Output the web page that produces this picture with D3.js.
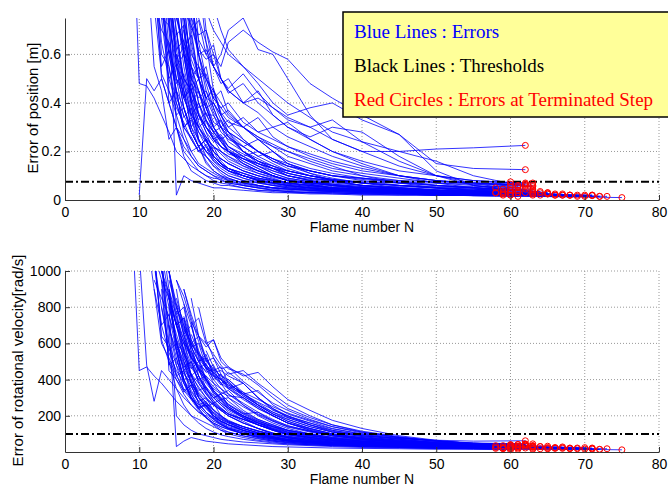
<!DOCTYPE html>
<html>
<head>
<meta charset="utf-8">
<script src="https://cdn.jsdelivr.net/npm/d3@7"></script>
<style>
  body { margin: 0; background: #fff; }
  svg { font-family: "Liberation Sans", Arial, sans-serif; }
</style>
</head>
<body>
<script>
// frames at which each run is sampled (a run begins at its start frame)
const frameGrid = [9,10,11,12,13,14,15,16,17,18,19,20,21,22,24,26,28,30,33,36,40,45,50,55];

// first frame and terminated frame of every run
const runStart = [9,10,11,12,12,13,13,14,14,14,15,15,16,16,13,12,14,15,17,18,16,13,15,12,14,16,15,13,14,17,13,15,16,14,18,12,
                  12,13,13,14,14,14,15,15,15,15,16,16,16,17,17,18,13,14,15,16,12,13,14,15,16,17,14,15,13,16,15,14,12,19];
const runEnd   = [58,59,59,59,60,60,60,60,61,61,61,62,62,62,62,63,63,63,63,64,65,65,66,66,67,67,68,68,69,70,71,71,72,73,75,58,
                  58,59,59,60,60,60,60,61,61,61,61,61,62,62,62,62,63,63,63,63,63,64,64,65,65,66,67,68,69,70,71,72,60,62];

// position error [m], from start frame along frameGrid, last value = terminated step
const posErr = [
  [1.3,0.48,0.47,0.42,0.35,0.28,0.2,0.17,0.14,0.12,0.1,0.09,0.085,0.07,0.06,0.05,0.045,0.04,0.035,0.035,0.03,0.03,0.03,0.03,0.03],
  [0.02,0.5,0.45,0.5,0.4,0.3,0.25,0.2,0.22,0.15,0.12,0.1,0.09,0.07,0.06,0.05,0.05,0.04,0.04,0.035,0.03,0.03,0.028,0.025],
  [1.0,0.55,0.45,0.25,0.3,0.2,0.16,0.12,0.1,0.08,0.07,0.065,0.05,0.04,0.04,0.035,0.03,0.03,0.025,0.025,0.02,0.02,0.02],
  [1.2,0.8,0.6,0.45,0.38,0.3,0.25,0.2,0.18,0.15,0.12,0.1,0.08,0.07,0.06,0.05,0.045,0.04,0.04,0.035,0.035,0.035],
  [0.9,0.75,0.72,0.55,0.6,0.42,0.35,0.3,0.27,0.22,0.2,0.15,0.12,0.1,0.08,0.07,0.06,0.05,0.045,0.04,0.04,0.065],
  [1.1,0.7,0.42,0.35,0.28,0.22,0.18,0.15,0.12,0.1,0.08,0.06,0.05,0.045,0.04,0.035,0.03,0.03,0.025,0.025,0.02],
  [0.95,0.85,0.65,0.5,0.45,0.38,0.4,0.32,0.3,0.26,0.2,0.16,0.13,0.1,0.085,0.07,0.06,0.055,0.05,0.05,0.075],
  [0.9,0.3,0.18,0.12,0.1,0.08,0.07,0.06,0.06,0.05,0.04,0.035,0.03,0.03,0.025,0.025,0.02,0.02,0.02,0.02],
  [1.0,0.55,0.48,0.35,0.3,0.25,0.2,0.17,0.15,0.12,0.1,0.08,0.07,0.06,0.05,0.05,0.045,0.04,0.04,0.04],
  [0.8,0.02,0.1,0.08,0.07,0.06,0.05,0.05,0.045,0.04,0.035,0.03,0.03,0.025,0.025,0.02,0.02,0.02,0.018,0.015],
  [1.0,0.7,0.55,0.45,0.38,0.3,0.26,0.22,0.18,0.14,0.11,0.09,0.075,0.065,0.055,0.05,0.045,0.04,0.055],
  [0.9,0.78,0.72,0.6,0.62,0.55,0.6,0.7,0.75,0.62,0.6,0.5,0.35,0.25,0.2,0.2,0.21,0.215,0.225],
  [1.0,0.75,0.68,0.7,0.6,0.55,0.65,0.7,0.65,0.61,0.58,0.48,0.42,0.35,0.27,0.15,0.13,0.125],
  [0.85,0.5,0.35,0.28,0.2,0.15,0.12,0.09,0.07,0.06,0.05,0.045,0.04,0.035,0.03,0.03,0.03,0.03],
  [1.0,0.9,0.75,0.62,0.5,0.45,0.35,0.35,0.3,0.28,0.22,0.18,0.15,0.12,0.1,0.085,0.075,0.07,0.07,0.065,0.065],
  [1.0,0.65,0.5,0.4,0.3,0.25,0.2,0.18,0.14,0.12,0.1,0.08,0.07,0.06,0.055,0.05,0.045,0.045,0.04,0.04,0.04,0.045],
  [1.0,0.85,0.75,0.6,0.55,0.5,0.45,0.4,0.35,0.3,0.25,0.2,0.16,0.13,0.11,0.09,0.08,0.075,0.07,0.07],
  [0.7,0.45,0.3,0.22,0.16,0.12,0.1,0.08,0.06,0.05,0.04,0.035,0.03,0.03,0.025,0.025,0.02,0.02,0.02],
  [1.0,0.75,0.65,0.55,0.5,0.45,0.4,0.45,0.35,0.3,0.25,0.2,0.15,0.1,0.08,0.07,0.06],
  [1.0,0.78,0.7,0.65,0.6,0.55,0.48,0.4,0.35,0.38,0.4,0.33,0.27,0.12,0.06,0.03],
  [0.9,0.8,0.6,0.45,0.38,0.3,0.26,0.2,0.16,0.13,0.1,0.08,0.065,0.055,0.05,0.04,0.035,0.03],
  [0.8,0.55,0.35,0.25,0.18,0.14,0.12,0.1,0.08,0.07,0.06,0.05,0.04,0.035,0.03,0.03,0.025,0.025,0.025,0.02,0.025],
  [1.0,0.6,0.4,0.3,0.25,0.22,0.2,0.18,0.15,0.12,0.1,0.08,0.065,0.055,0.045,0.04,0.03,0.03,0.025],
  [0.8,0.7,0.65,0.5,0.45,0.35,0.4,0.3,0.25,0.2,0.18,0.14,0.11,0.09,0.07,0.06,0.05,0.04,0.035,0.03,0.025,0.02],
  [0.95,0.7,0.5,0.38,0.28,0.22,0.18,0.15,0.13,0.1,0.08,0.065,0.055,0.045,0.04,0.035,0.03,0.025,0.02,0.02],
  [1.0,0.65,0.5,0.42,0.35,0.28,0.25,0.22,0.25,0.2,0.15,0.11,0.08,0.06,0.05,0.04,0.03,0.02],
  [0.6,0.5,0.45,0.35,0.3,0.25,0.22,0.2,0.17,0.15,0.13,0.12,0.1,0.08,0.06,0.045,0.035,0.025,0.02],
  [1.0,0.45,0.38,0.32,0.25,0.2,0.22,0.16,0.13,0.11,0.09,0.075,0.06,0.05,0.045,0.04,0.035,0.03,0.025,0.022,0.02],
  [1.0,0.75,0.65,0.55,0.45,0.35,0.3,0.24,0.2,0.16,0.13,0.1,0.08,0.065,0.05,0.04,0.03,0.025,0.02,0.015],
  [0.9,0.55,0.4,0.3,0.25,0.2,0.15,0.12,0.1,0.085,0.07,0.06,0.05,0.04,0.03,0.02,0.015],
  [0.85,0.6,0.45,0.28,0.2,0.15,0.13,0.11,0.095,0.085,0.07,0.06,0.05,0.045,0.04,0.035,0.03,0.025,0.02,0.02,0.02],
  [1.0,0.8,0.55,0.4,0.32,0.28,0.24,0.21,0.17,0.14,0.11,0.09,0.075,0.06,0.05,0.04,0.03,0.025,0.02],
  [0.7,0.4,0.25,0.18,0.14,0.11,0.09,0.07,0.06,0.05,0.045,0.04,0.035,0.03,0.025,0.02,0.018,0.015],
  [1.0,0.8,0.6,0.55,0.5,0.42,0.4,0.35,0.3,0.25,0.2,0.16,0.13,0.1,0.08,0.06,0.045,0.035,0.025,0.015],
  [0.9,0.65,0.45,0.35,0.28,0.2,0.15,0.12,0.1,0.08,0.06,0.045,0.035,0.025,0.018,0.01],
  [1.0,0.5,0.4,0.3,0.22,0.18,0.14,0.12,0.1,0.09,0.08,0.065,0.055,0.05,0.045,0.04,0.04,0.035,0.035,0.03,0.03,0.03],
  [0.9,0.55,0.62,0.48,0.52,0.4,0.33,0.36,0.28,0.25,0.27,0.2,0.16,0.14,0.11,0.09,0.08,0.07,0.06,0.055,0.05,0.05],
  [1.0,0.72,0.58,0.63,0.45,0.5,0.38,0.3,0.33,0.26,0.22,0.18,0.2,0.15,0.12,0.1,0.09,0.07,0.06,0.05,0.045],
  [0.9,0.4,0.45,0.3,0.26,0.2,0.23,0.17,0.14,0.12,0.1,0.085,0.07,0.06,0.05,0.045,0.04,0.035,0.03,0.03,0.03],
  [1.0,0.68,0.72,0.5,0.55,0.42,0.46,0.36,0.32,0.3,0.26,0.22,0.18,0.15,0.12,0.1,0.08,0.06,0.05,0.04],
  [0.75,0.5,0.34,0.38,0.25,0.2,0.22,0.16,0.13,0.11,0.09,0.08,0.065,0.055,0.05,0.04,0.035,0.03,0.03,0.03],
  [0.85,0.62,0.45,0.3,0.35,0.28,0.24,0.26,0.2,0.18,0.2,0.16,0.14,0.12,0.1,0.09,0.075,0.06,0.055,0.055],
  [0.95,0.62,0.68,0.5,0.42,0.45,0.35,0.3,0.34,0.28,0.3,0.26,0.22,0.18,0.14,0.1,0.07,0.05,0.04],
  [0.8,0.55,0.4,0.45,0.33,0.28,0.24,0.2,0.16,0.13,0.1,0.08,0.07,0.06,0.05,0.045,0.04,0.035,0.03],
  [0.6,0.42,0.48,0.36,0.3,0.25,0.27,0.22,0.19,0.16,0.14,0.12,0.1,0.085,0.07,0.06,0.05,0.045,0.04],
  [1.0,0.85,0.7,0.74,0.6,0.55,0.5,0.44,0.48,0.4,0.35,0.3,0.26,0.3,0.28,0.18,0.1,0.07,0.06],
  [0.9,0.62,0.5,0.55,0.4,0.35,0.37,0.3,0.25,0.22,0.2,0.16,0.13,0.11,0.09,0.07,0.06,0.05],
  [0.75,0.45,0.32,0.26,0.22,0.2,0.17,0.14,0.12,0.1,0.08,0.07,0.06,0.05,0.045,0.04,0.035,0.03],
  [1.0,0.8,0.66,0.6,0.64,0.5,0.46,0.52,0.44,0.38,0.34,0.3,0.33,0.24,0.16,0.1,0.08,0.07],
  [1.0,0.65,0.5,0.42,0.45,0.36,0.3,0.34,0.26,0.22,0.18,0.15,0.12,0.1,0.08,0.07,0.06],
  [0.85,0.6,0.48,0.38,0.3,0.33,0.25,0.2,0.17,0.15,0.12,0.1,0.085,0.07,0.06,0.05,0.045],
  [1.0,0.7,0.55,0.48,0.5,0.4,0.36,0.3,0.32,0.25,0.2,0.16,0.12,0.1,0.08,0.065],
  [0.75,0.5,0.56,0.42,0.35,0.3,0.33,0.25,0.22,0.2,0.17,0.15,0.13,0.11,0.09,0.08,0.07,0.06,0.05,0.045,0.04],
  [0.9,0.55,0.38,0.28,0.22,0.25,0.18,0.15,0.13,0.1,0.085,0.07,0.06,0.05,0.045,0.04,0.035,0.03,0.025,0.025],
  [0.85,0.75,0.58,0.5,0.52,0.42,0.38,0.4,0.32,0.28,0.25,0.22,0.19,0.16,0.13,0.1,0.08,0.065,0.055],
  [0.7,0.52,0.4,0.33,0.28,0.3,0.24,0.2,0.17,0.14,0.12,0.1,0.085,0.07,0.06,0.05,0.04,0.035],
  [0.8,0.52,0.45,0.35,0.38,0.28,0.22,0.25,0.18,0.15,0.13,0.11,0.09,0.08,0.07,0.06,0.05,0.045,0.04,0.04,0.035,0.03],
  [0.95,0.8,0.62,0.66,0.5,0.44,0.38,0.4,0.33,0.28,0.24,0.2,0.17,0.14,0.12,0.1,0.08,0.06,0.05,0.04,0.035],
  [0.65,0.45,0.3,0.33,0.24,0.2,0.17,0.14,0.12,0.1,0.08,0.07,0.06,0.05,0.04,0.035,0.03,0.025,0.022,0.02],
  [1.0,0.9,0.72,0.62,0.58,0.6,0.5,0.45,0.4,0.42,0.38,0.33,0.3,0.25,0.2,0.14,0.1,0.06,0.03],
  [0.6,0.42,0.3,0.24,0.2,0.17,0.15,0.12,0.1,0.085,0.07,0.06,0.05,0.045,0.04,0.03,0.025,0.025],
  [0.7,0.5,0.38,0.3,0.25,0.22,0.18,0.15,0.13,0.11,0.09,0.075,0.06,0.05,0.04,0.03,0.02],
  [1.0,0.78,0.6,0.48,0.42,0.45,0.36,0.32,0.28,0.24,0.2,0.17,0.14,0.11,0.09,0.07,0.05,0.04,0.03,0.025],
  [0.55,0.38,0.28,0.22,0.25,0.18,0.15,0.13,0.11,0.09,0.075,0.065,0.055,0.045,0.04,0.035,0.03,0.025,0.02],
  [1.0,0.62,0.5,0.42,0.46,0.35,0.3,0.26,0.22,0.19,0.17,0.14,0.12,0.1,0.08,0.065,0.05,0.04,0.03,0.025,0.02],
  [0.95,0.75,0.6,0.5,0.42,0.38,0.34,0.3,0.26,0.23,0.2,0.17,0.14,0.1,0.07,0.05,0.03,0.02],
  [0.7,0.48,0.36,0.3,0.26,0.22,0.19,0.16,0.13,0.11,0.095,0.08,0.065,0.05,0.04,0.03,0.025,0.02,0.018],
  [0.8,0.58,0.42,0.34,0.28,0.24,0.2,0.17,0.15,0.12,0.1,0.085,0.07,0.06,0.05,0.04,0.03,0.022,0.018,0.015],
  [1.0,0.6,0.55,0.4,0.3,0.34,0.25,0.2,0.16,0.14,0.12,0.1,0.08,0.07,0.06,0.05,0.045,0.04,0.035,0.035,0.03,0.03],
  [0.95,0.8,0.7,0.62,0.55,0.5,0.45,0.4,0.34,0.28,0.24,0.2,0.16,0.1,0.055]
];

// rotational velocity error [rad/s], same layout as posErr
const rotErr = [
  [1300,450,470,420,380,330,280,240,200,180,160,140,120,110,90,75,60,50,40,35,30,25,20,20,20],
  [1100,480,280,450,400,350,300,260,220,200,170,150,130,100,80,65,55,45,40,35,30,25,22,20],
  [1200,900,700,550,450,380,300,260,220,190,170,150,120,95,75,60,50,40,35,30,25,20,18],
  [1300,1000,800,650,520,430,380,320,270,240,210,170,130,100,80,60,50,40,35,30,25,25],
  [1100,950,850,700,600,550,450,400,350,320,280,220,180,150,120,95,75,60,50,40,35,35],
  [1100,600,420,350,300,250,210,180,150,130,100,80,65,55,45,40,35,30,25,20,18],
  [1200,900,750,620,520,460,420,380,350,320,260,200,160,130,100,80,65,55,45,40,38],
  [700,30,60,80,70,60,55,50,45,40,35,30,28,25,22,20,18,15,15,12],
  [900,600,500,420,360,300,260,230,200,160,130,100,85,70,55,45,40,35,30,28],
  [800,200,150,120,100,90,80,70,65,55,50,45,40,35,30,25,22,20,18,15],
  [800,650,540,460,400,340,300,260,210,170,140,110,90,70,55,45,40,35,30],
  [700,600,520,480,450,420,400,440,380,300,230,200,150,110,90,75,65,60,62],
  [750,620,540,500,460,420,400,330,260,210,170,130,100,80,65,55,45,40],
  [500,380,300,250,200,170,150,120,100,80,65,55,45,40,35,30,25,22],
  [1000,850,700,560,470,400,350,300,260,230,190,150,120,100,80,65,55,50,45,42,40],
  [1050,800,600,480,400,330,280,240,200,180,160,130,105,85,70,55,45,40,35,30,28,30],
  [950,800,700,600,530,470,420,380,350,290,240,200,160,120,95,75,60,50,45,45],
  [550,400,300,240,190,150,120,100,80,65,55,45,40,35,30,25,20,18,15],
  [650,550,480,430,400,370,310,260,210,180,140,110,85,65,50,40,35],
  [520,460,440,450,420,380,300,240,200,160,120,90,70,50,40,30],
  [650,500,420,360,310,270,240,190,150,120,95,75,60,50,40,32,28,25],
  [900,500,350,260,200,160,130,110,95,85,70,60,50,45,40,35,30,25,22,20,18],
  [750,550,430,350,300,260,230,200,160,130,105,85,70,55,45,38,30,25,22],
  [950,850,750,620,540,460,500,400,340,290,250,200,160,125,100,80,65,50,40,32,28,25],
  [850,620,480,380,310,260,220,190,165,130,105,85,70,58,48,40,33,28,24,20],
  [700,560,470,410,360,330,310,300,250,200,160,120,90,70,55,42,34,28],
  [500,430,380,330,290,260,235,210,180,160,140,120,100,80,60,45,35,28,22],
  [1100,450,400,340,290,250,260,200,170,150,120,95,78,65,55,45,38,32,27,23,20],
  [1000,720,620,530,450,380,330,280,240,190,150,120,95,75,60,48,38,30,24,18],
  [600,420,330,270,230,200,160,130,105,88,72,60,48,38,30,22,16],
  [950,700,520,380,290,230,190,160,140,125,100,85,70,60,50,42,35,30,25,22,20],
  [850,700,560,460,390,340,300,265,215,175,140,115,92,75,60,48,38,30,22],
  [450,320,240,190,155,130,110,88,72,60,52,45,40,35,30,25,20,15],
  [1000,800,680,600,540,480,440,400,360,300,250,200,160,125,95,72,55,40,30,18],
  [480,400,340,290,250,200,160,130,105,85,68,52,40,30,22,12],
  [1150,620,500,400,320,260,220,190,160,140,125,100,85,72,62,52,45,40,35,30,28,25],
  [1050,700,760,560,600,480,400,420,330,290,300,230,180,150,120,95,75,60,50,42,36,35],
  [1100,850,700,740,580,600,470,400,430,350,300,240,200,160,130,100,80,60,48,40,35],
  [950,480,520,380,320,260,280,210,180,150,130,105,85,70,58,50,42,36,30,26,24],
  [1000,760,800,600,640,500,520,430,380,320,260,210,170,130,100,75,58,45,36,30],
  [850,560,400,430,300,250,270,200,170,140,115,95,78,64,52,44,36,30,25,22],
  [900,700,540,380,420,340,300,320,260,210,220,170,140,115,95,78,62,50,42,40],
  [900,650,700,540,460,480,400,350,380,300,240,190,150,115,90,70,55,45,40],
  [780,560,420,460,350,300,260,220,180,150,120,95,80,65,52,44,38,32,28],
  [620,450,500,380,320,270,290,240,200,170,145,120,100,82,66,54,45,38,32],
  [950,820,700,740,600,540,480,430,450,380,320,260,200,150,110,80,60,48,42],
  [820,620,500,540,420,370,390,310,260,220,190,150,120,95,75,60,48,40],
  [620,420,320,270,230,200,175,140,115,95,80,65,55,45,38,32,26,22],
  [900,760,640,580,620,500,460,430,370,300,240,190,150,115,85,62,50,45],
  [850,640,520,450,470,380,320,340,260,210,170,130,100,78,60,48,40],
  [700,560,460,380,320,340,260,210,175,145,115,90,72,58,46,38,32],
  [800,620,520,460,470,390,330,270,230,180,140,105,80,60,48,42],
  [800,560,600,460,390,340,360,280,240,210,180,150,125,100,82,66,54,44,36,30,28],
  [880,580,400,300,240,260,190,160,135,110,90,75,62,52,44,38,32,27,22,20],
  [820,720,580,500,520,430,380,400,320,270,220,180,140,110,85,65,50,40,34],
  [680,520,420,350,300,320,250,200,165,135,110,90,74,60,50,42,35,30],
  [900,600,520,420,450,340,280,300,230,195,165,140,115,95,78,62,50,42,36,32,28,26],
  [1000,880,700,740,580,500,440,460,380,320,270,220,180,145,115,90,70,54,42,34,30],
  [700,480,340,370,270,220,185,155,130,105,86,72,60,50,42,36,30,25,21,18],
  [950,860,720,640,600,620,520,470,420,440,360,290,230,175,130,90,65,45,32],
  [580,400,300,240,200,170,150,120,100,82,68,56,47,40,34,28,24,20],
  [720,520,400,320,270,240,195,160,130,108,88,72,58,46,36,28,20],
  [1000,820,640,520,460,490,400,350,300,250,205,170,138,110,88,68,52,40,30,24],
  [560,400,300,240,270,200,165,140,118,98,80,66,55,46,39,33,28,23,18],
  [1050,680,560,470,500,390,330,285,245,210,180,150,125,100,80,64,50,40,32,26,22],
  [900,740,610,510,440,400,360,320,275,235,195,160,128,98,72,52,36,24],
  [720,500,380,320,275,235,200,170,140,118,98,82,68,55,44,35,28,22,16],
  [820,600,440,360,300,255,215,185,160,130,108,90,75,62,50,40,32,24,18,14],
  [1100,640,580,430,330,370,270,220,180,155,132,112,92,78,66,55,47,40,35,32,28,26],
  [560,470,410,370,330,290,250,215,175,140,110,82,60,44,38]
];

const posThreshold = 0.075;
const rotThreshold = 100;
const xTicks = [0,10,20,30,40,50,60,70,80];
const posTicks = [0,0.2,0.4,0.6];
const rotTicks = [200,400,600,800,1000];
const legendLines = ["Blue Lines : Errors", "Black Lines : Thresholds", "Red Circles : Errors at Terminated Step"];
const legendColors = ["#0000ff", "#000000", "#ff0000"];

// turn a run's values into [frame, value] points
function runPoints(values, i) {
  const s = frameGrid.indexOf(runStart[i]);
  const pts = values.slice(0, -1)
    .map((v, k) => [frameGrid[s + k], v])
    .filter(p => p[0] !== undefined);
  pts.push([runEnd[i], values[values.length - 1]]);
  return pts;
}

const posRuns = posErr.map(runPoints);
const rotRuns = rotErr.map(runPoints);

const svg = d3.select("body").append("svg")
  .attr("width", 668)
  .attr("height", 486);

const left = 65, right = 659;

function drawPanel(top, bottom, yMax, runs, threshold, yTicks, yLabel, labelX, id) {
  const x = d3.scaleLinear().domain([0, 80]).range([left, right]);
  const y = d3.scaleLinear().domain([0, yMax]).range([bottom, top]);
  const g = svg.append("g");

  svg.append("clipPath").attr("id", id)
    .append("rect")
    .attr("x", left).attr("y", top)
    .attr("width", right - left).attr("height", bottom - top);

  // dotted grid
  g.append("g").selectAll("line")
    .data(xTicks.filter(d => d > 0))
    .join("line")
    .attr("x1", d => x(d)).attr("x2", d => x(d))
    .attr("y1", bottom).attr("y2", top)
    .attr("stroke", "#999").attr("stroke-dasharray", "1,2");
  g.append("g").selectAll("line")
    .data(yTicks.filter(d => d > 0))
    .join("line")
    .attr("x1", left).attr("x2", right)
    .attr("y1", d => y(d)).attr("y2", d => y(d))
    .attr("stroke", "#999").attr("stroke-dasharray", "1,2");

  // error curves
  const line = d3.line().x(d => x(d[0])).y(d => y(d[1]));
  g.append("g").attr("clip-path", `url(#${id})`)
    .selectAll("path")
    .data(runs)
    .join("path")
    .attr("d", line)
    .attr("fill", "none")
    .attr("stroke", "#0000ff")
    .attr("stroke-width", 0.8);

  // threshold
  g.append("line")
    .attr("x1", x(0)).attr("x2", x(80))
    .attr("y1", y(threshold)).attr("y2", y(threshold))
    .attr("stroke", "#000").attr("stroke-width", 2)
    .attr("stroke-dasharray", "8,3,2,3");

  // terminated step markers
  g.append("g").selectAll("circle")
    .data(runs)
    .join("circle")
    .attr("cx", d => x(d[d.length - 1][0]))
    .attr("cy", d => y(d[d.length - 1][1]))
    .attr("r", 3)
    .attr("fill", "none")
    .attr("stroke", "#ff0000")
    .attr("stroke-width", 1);

  // axes
  const xAxis = g.append("g")
    .attr("transform", `translate(0,${bottom})`)
    .call(d3.axisBottom(x).tickValues(xTicks).tickSizeInner(-5).tickSizeOuter(0).tickPadding(7));
  const yAxis = g.append("g")
    .attr("transform", `translate(${left},0)`)
    .call(d3.axisLeft(y).tickValues(yTicks).tickFormat(d => String(d))
      .tickSizeInner(-5).tickSizeOuter(0).tickPadding(4));
  [xAxis, yAxis].forEach(a => {
    a.select(".domain").attr("stroke", "#333");
    a.selectAll(".tick line").attr("stroke", "#333");
    a.selectAll("text").attr("font-size", 14).attr("font-family", null).attr("fill", "#000");
  });

  g.append("text")
    .attr("x", (left + right) / 2).attr("y", bottom + 32)
    .attr("text-anchor", "middle").attr("font-size", 14)
    .text("Flame number N");

  g.append("text")
    .attr("transform", `translate(${labelX},${(top + bottom) / 2 - 1}) rotate(-90)`)
    .attr("text-anchor", "middle").attr("font-size", 15)
    .attr("dy", "0.35em")
    .text(yLabel);
}

drawPanel(18, 200, 0.75, posRuns, posThreshold, posTicks, "Error of position [m]", 33, "clipPos");
drawPanel(271, 452, 1000, rotRuns, rotThreshold, rotTicks, "Error of rotational velocity[rad/s]", 18, "clipRot");

// legend box
const legend = svg.append("g");
legend.append("rect")
  .attr("x", 343).attr("y", 12)
  .attr("width", 340).attr("height", 105)
  .attr("fill", "#ffff99")
  .attr("stroke", "#000").attr("stroke-width", 1.5);
legend.selectAll("text")
  .data(legendLines)
  .join("text")
  .attr("x", 354)
  .attr("y", (d, i) => 38 + i * 34)
  .style("font-family", "'Liberation Serif', 'Times New Roman', serif")
  .attr("font-size", 19)
  .attr("fill", (d, i) => legendColors[i])
  .text(d => d);
</script>
</body>
</html>
